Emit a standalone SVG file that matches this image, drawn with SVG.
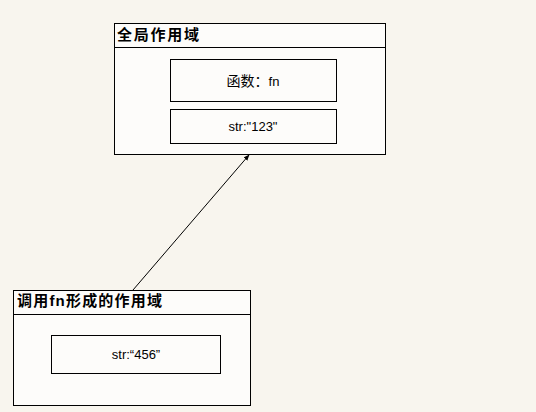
<svg xmlns="http://www.w3.org/2000/svg" width="536" height="412" viewBox="0 0 536 412">
<style>
.box{fill:#fdfcfa;stroke:#000;stroke-width:1}
.title{font-family:"Liberation Sans","Noto Sans CJK SC",sans-serif;font-size:15px;font-weight:bold;fill:#000}
.lbl{font-family:"Liberation Sans","Noto Sans CJK SC",sans-serif;font-size:13px;fill:#000;text-anchor:middle}
.conn{stroke:#000;stroke-width:1;fill:none}
</style>
<defs>
<marker id="arr" viewBox="0 0 10 10" refX="9" refY="5" markerWidth="6" markerHeight="6" orient="auto" markerUnits="userSpaceOnUse">
<path d="M0,1 L10,5 L0,9 z" fill="#000"/>
</marker>
</defs>
<rect x="0" y="0" width="536" height="412" fill="#f8f5ee"/>
<g id="global-scope">
<rect class="box" x="114.5" y="23.5" width="271" height="131"/>
<line x1="114.5" y1="47.5" x2="385.5" y2="47.5" stroke="#000"/>
<text class="title" x="117" y="40" textLength="82" lengthAdjust="spacing">全局作用域</text>
</g>
<g id="fn-node">
<rect class="box" x="170.5" y="59.5" width="166" height="42"/>
<text class="lbl" x="253" y="86"><tspan font-size="14">函数：</tspan>fn</text>
</g>
<g id="str123-node">
<rect class="box" x="170.5" y="109.5" width="166" height="34"/>
<text class="lbl" x="253" y="131">str:"123"</text>
</g>
<g id="fn-scope">
<rect class="box" x="13.5" y="290.5" width="237" height="115"/>
<line x1="13.5" y1="314.5" x2="250.5" y2="314.5" stroke="#000"/>
<text class="title" x="17" y="306" textLength="145" lengthAdjust="spacing">调用fn形成的作用域</text>
</g>
<g id="str456-node">
<rect class="box" x="51.5" y="335.5" width="169" height="38"/>
<text class="lbl" x="136" y="359">str:“456”</text>
</g>
<g id="connectors">
<line class="conn" x1="133" y1="290" x2="249" y2="155" marker-end="url(#arr)"/>
</g>
</svg>
